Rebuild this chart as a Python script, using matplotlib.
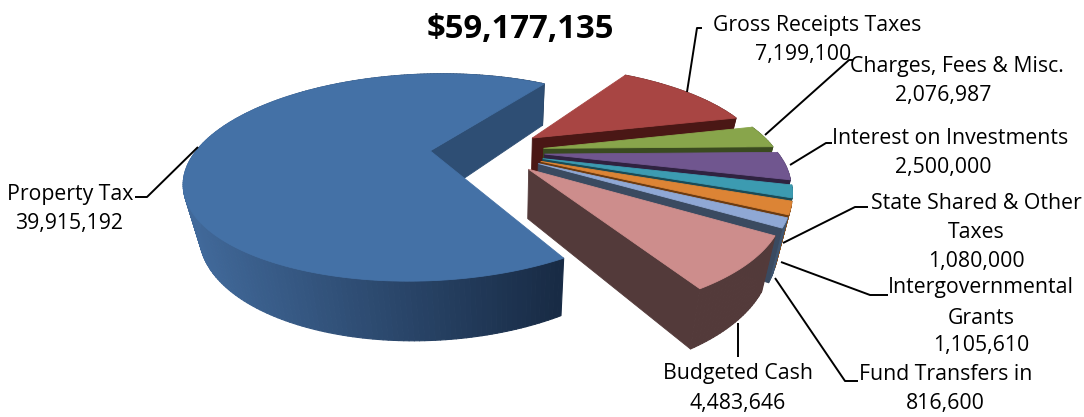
import numpy as np
import matplotlib
matplotlib.use("Agg")
import matplotlib.pyplot as plt
from matplotlib.patches import Polygon
from matplotlib.collections import PolyCollection

plt.rcParams['font.family'] = ['Open Sans', 'DejaVu Sans']

title = "$59,177,135"
categories = ["Property Tax", "Gross Receipts Taxes", "Charges, Fees & Misc.",
              "Interest on Investments", "State Shared & Other Taxes",
              "Intergovernmental Grants", "Fund Transfers in", "Budgeted Cash"]
values = [39915192, 7199100, 2076987, 2500000, 1080000, 1105610, 816600, 4483646]
top_colors = ["#4471A6", "#A84543", "#88A54B", "#70568F", "#3C9BB1", "#DC8435", "#8FA8D5", "#CD8D8C"]
cut_colors = ["#2E4E74", "#4A1715", "#3A4A20", "#2F2240", "#1A4A55", "#6B3A10", "#3A4A60", "#533A3A"]
arc_colors = ["#2E4E74", "#5E2725", "#4A5F2B", "#43325A", "#24697A", "#8C5320", "#3F5570", "#533A3A"]

# pie geometry (projection constants, in figure pixels)
START = 63.6
EXPLODE, CENTER = 0.245, (0.245, 0.02)
CX, CY, A, B, K, H, S = 430, 151, 234, 96.7, 0.256, 0.02, -6.5
D0, D1, VX, SHRINK = 13, 34.7, 510, 0.95


def project(x, y, bottom=False):
    w = 1 - K * y + H * x
    X = CX + A * x / w
    Y = CY + (B * y + S * x) / w
    if bottom:
        X = VX + (X - VX) * SHRINK
        Y = Y + D0 + D1 / w
    return X, Y


def lerp(c1, c2, t):
    a = np.array(matplotlib.colors.to_rgb(c1))
    b = np.array(matplotlib.colors.to_rgb(c2))
    return tuple(a + (b - a) * t)


fig = plt.figure(figsize=(10.84, 4.17), dpi=100)
ax = fig.add_axes([0, 0, 1, 1])
ax.set_xlim(0, 1084)
ax.set_ylim(417, 0)
ax.axis("off")

total = sum(values)
spans = [v / total * 360 for v in values]
starts = START + np.concatenate([[0], np.cumsum(spans)[:-1]])

for i, (t0, sp) in enumerate(zip(starts, spans)):
    mid = np.radians(t0 + sp / 2)
    ax0 = CENTER[0] + EXPLODE * np.cos(mid)
    ay0 = CENTER[1] + EXPLODE * np.sin(mid)
    th = np.radians(np.linspace(t0, t0 + sp, max(int(sp), 8)))
    ex = ax0 + np.cos(th)
    ey = ay0 + np.sin(th)
    tx, ty = project(ex, ey)
    bx, by = project(ex, ey, True)
    apx, apy = project(ax0, ay0)
    abx, aby = project(ax0, ay0, True)

    # outer wall
    quads, cols = [], []
    for j in range(len(th) - 1):
        quads.append([(tx[j], ty[j]), (tx[j + 1], ty[j + 1]), (bx[j + 1], by[j + 1]), (bx[j], by[j])])
        if i == 0:
            t = np.clip((tx[j] - 190) / 370, 0, 1)
            cols.append(lerp("#41699A", "#182B45", t))
        else:
            cols.append(arc_colors[i])
    ax.add_collection(PolyCollection(quads, facecolors=cols, edgecolors=cols, linewidths=0.8, zorder=10 + 3 * i))
    # cut face on the end angle, facing the viewer
    ax.add_patch(Polygon([(apx, apy), (tx[-1], ty[-1]), (bx[-1], by[-1]), (abx, aby)],
                         closed=True, fc=cut_colors[i], ec=cut_colors[i], lw=0.6, zorder=11 + 3 * i))
    # top face
    ax.add_patch(Polygon(np.column_stack([np.r_[apx, tx], np.r_[apy, ty]]), closed=True,
                         fc=top_colors[i], ec=top_colors[i], lw=0.6, zorder=12 + 3 * i))

# leader lines
leaders = [
    [(135, 197), (147, 197), (198, 147)],
    [(702, 28), (697, 28), (687, 92)],
    [(853, 60), (849, 60), (765, 135)],
    [(832, 143), (826, 143), (790, 165)],
    [(868, 207), (855, 207), (783, 243)],
    [(888, 295), (870, 295), (781, 262)],
    [(858, 381), (845, 381), (775, 278)],
    [(738, 357), (738, 323)],
]
for pts in leaders:
    p = np.array(pts)
    ax.plot(p[:, 0], p[:, 1], color="black", lw=1.4, zorder=60, solid_capstyle="butt")

# labels, one entry per line of text
FS = 15.3
label_lines = [
    ("Property Tax", 70, 194), ("39,915,192", 69, 223),
    ("Gross Receipts Taxes", 817, 25), ("7,199,100", 803, 54),
    ("Charges, Fees & Misc.", 957, 66), ("2,076,987", 943, 95),
    ("Interest on Investments", 950, 138), ("2,500,000", 943, 167),
    ("State Shared & Other", 976, 203), ("Taxes", 976, 232), ("1,080,000", 976, 261),
    ("Intergovernmental", 981, 288), ("Grants", 981, 318), ("1,105,610", 981, 346),
    ("Fund Transfers in", 946, 375), ("816,600", 945, 404),
    ("Budgeted Cash", 738, 374), ("4,483,646", 738, 403),
]
for s, x, y in label_lines:
    ax.text(x, y, s, ha="center", va="center", fontsize=FS, color="black", zorder=70)
ax.text(520.5, 29, title, ha="center", va="center", fontsize=23.7, fontweight="bold", color="black", zorder=70)

fig.savefig("out.png", dpi=100)
